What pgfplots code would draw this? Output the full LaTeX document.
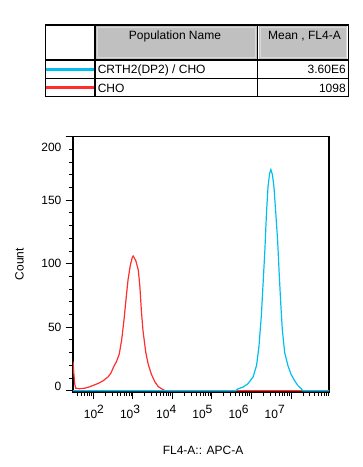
\documentclass[border=0pt]{standalone}
\usepackage{pgfplots}
\pgfplotsset{compat=1.18}
\usepackage{pgfplotstable}
\usepackage{fontspec}
\setmainfont{Liberation Sans}
\definecolor{cyanline}{RGB}{0,190,240}
\definecolor{redline}{RGB}{255,45,45}
\definecolor{hdrgray}{RGB}{192,192,192}

\pgfplotstableread{
lx c
1.492 23
1.51 14
1.535 5
1.56 2
1.65 1.6
1.79 2
1.90 3
2.00 4.2
2.13 5.8
2.25 7.8
2.38 11
2.45 14
2.52 19
2.59 23
2.66 29
2.72 40
2.78 56
2.83 72
2.88 87
2.94 99
2.99 105
3.01 106
3.03 105
3.08 102
3.14 95
3.18 82
3.22 62
3.26 47
3.33 30
3.39 21
3.47 13
3.56 7
3.64 3.4
3.73 1.5
3.80 0.3
3.85 0
7.96 0
}\redtable

\pgfplotstableread{
lx c
1.49 0
5.60 0
5.66 1.5
5.79 2.9
5.91 5.5
6.04 10.7
6.13 20
6.19 35
6.25 59
6.29 82
6.34 111
6.38 140
6.42 161
6.46 171
6.49 174
6.53 170
6.57 160
6.61 142
6.66 119
6.70 93
6.74 69
6.78 48
6.84 30
6.92 20
7.00 13
7.09 8
7.17 4.2
7.26 1.5
7.30 0
7.96 0
}\bluetable

\newcommand{\expl}[1]{10\raisebox{3.5pt}{#1}}

\begin{document}
\fontsize{9pt}{11pt}\selectfont
\begin{tikzpicture}
\useasboundingbox (0,0) rectangle (272.25pt,-350.25pt);
\begin{scope}[x=0.75pt,y=-0.75pt]
\fill[hdrgray] (96,26) rectangle (256.7,59);
\fill[hdrgray] (258.7,26) rectangle (347.3,59);
\draw[black!15, line width=0.6pt] (97.2,27.2) rectangle (255.5,57.8);
\draw[black!15, line width=0.6pt] (259.9,27.2) rectangle (346.1,57.8);
\draw[line width=0.9pt] (45.7,25) rectangle (348.3,96.7);
\draw[line width=0.9pt] (95,25) -- (95,96.7) (257.7,25) -- (257.7,96.7)
  (45.7,60) -- (348.3,60) (45.7,78.3) -- (348.3,78.3);
\draw[cyanline, line width=2.5pt] (45.7,69.3) -- (93.5,69.3);
\draw[redline, line width=2.5pt] (45.7,87.3) -- (93.5,87.3);
\node[anchor=base, inner sep=0] at (175,40) {Population Name};
\node[anchor=base, inner sep=0] at (304.5,40) {Mean , FL4-A};
\node[anchor=base west, inner sep=0] at (97.5,74) {CRTH2(DP2) / CHO};
\node[anchor=base east, inner sep=0] at (346,74) {3.60E6};
\node[anchor=base west, inner sep=0] at (97.5,92.7) {CHO};
\node[anchor=base east, inner sep=0] at (346,92.7) {1098};
\end{scope}
\begin{axis}[
  at={(54.75pt,-294pt)}, anchor=south west,
  scale only axis, width=192pt, height=191.6pt,
  xmode=log, xmin=30.9, xmax=9.12e7,
  ymin=-1, ymax=200,
  axis line style={line width=1pt},
  tick align=outside, tick pos=left,
  xtick={1e2,1e3,1e4,1e5,1e6,1e7},
  xticklabels={\kern1pt\expl{2},\expl{3}\kern4.1pt,\expl{4}\kern9.2pt,\expl{5}\kern14.3pt,\expl{6}\kern19.4pt,\expl{7}\kern24.5pt},
  minor xtick={40,50,60,70,80,90,2e2,3e2,4e2,5e2,6e2,7e2,8e2,9e2,2e3,3e3,4e3,5e3,6e3,7e3,8e3,9e3,2e4,3e4,4e4,5e4,6e4,7e4,8e4,9e4,2e5,3e5,4e5,5e5,6e5,7e5,8e5,9e5,2e6,3e6,4e6,5e6,6e6,7e6,8e6,9e6,2e7,3e7,4e7,5e7,6e7,7e7,8e7,9e7},
  ytick={0,50,100,150,200},
  yticklabels={\raisebox{3pt}[\height][\depth]{0},50,100,150,\raisebox{-8.25pt}[\height][\depth]{200}},
  minor y tick num=4,
  major tick length=5.5pt, minor tick length=3pt,
  tick style={black, line width=0.6pt},
  xticklabel style={yshift=-1.5pt},
  xlabel={FL4-A:: APC-A}, ylabel={Count},
  xlabel style={at={(axis description cs:0.508,-0.227)}, anchor=center},
  ylabel style={at={(axis description cs:-0.209,0.5)}, anchor=center, rotate=0},
]
\addplot[redline, line width=0.9pt] table[x expr=10^\thisrow{lx}, y=c]{\redtable};
\addplot[cyanline, line width=0.9pt] table[x expr=10^\thisrow{lx}, y=c]{\bluetable};
\end{axis}
\end{tikzpicture}
\end{document}
